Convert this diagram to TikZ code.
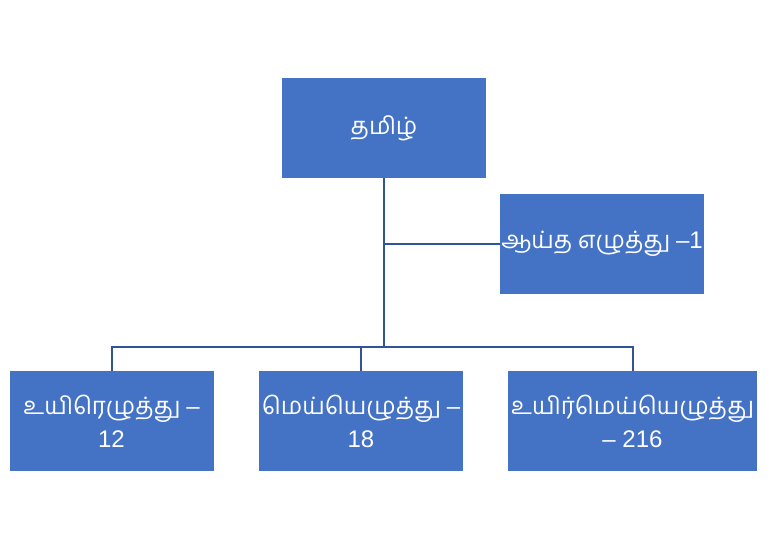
\documentclass[tikz,border=0pt]{standalone}
\usepackage{fontspec}
\setmainfont[Script=Tamil]{Hind Madurai}
\newfontfamily\latin{Liberation Sans}
\usepackage{tikz}
\usetikzlibrary{calc}

\definecolor{boxblue}{HTML}{4472C4}
\definecolor{lineblue}{HTML}{2F5597}

\begin{document}
\begin{tikzpicture}[x=1pt,y=-1pt,
	box/.style={shape=rectangle,fill=boxblue,text=white,inner sep=0pt,
		minimum width=204pt,minimum height=100pt,align=center,
		font=\fontsize{24}{33}\selectfont},
	link/.style={draw=lineblue,line width=2pt}]
	\useasboundingbox (0,0) rectangle (771,550);
	\draw (384,128) node (tamil) [box] {தமிழ்};
	\draw (602,244) node (aytham) [box] {ஆய்த எழுத்து {\latin –1}};
	\draw (111.5,421) node (uyir) [box] {உயிரெழுத்து {\latin –}\\{\latin 12}};
	\draw (361,421) node (mei) [box] {மெய்யெழுத்து {\latin –}\\{\latin 18}};
	\draw (632.5,421) node (uyirmei) [box,minimum width=249pt] {உயிர்மெய்யெழுத்து\\{\latin – 216}};
	\coordinate (join) at (384,347);
	\draw [link] (tamil.south) -- (join);
	\draw [link] (tamil.south |- aytham.west) -- (aytham.west);
	\draw [link] (uyir.north) |- (join) -| (uyirmei.north);
	\draw [link] (mei.north) -- (mei.north |- join);
\end{tikzpicture}
\end{document}
